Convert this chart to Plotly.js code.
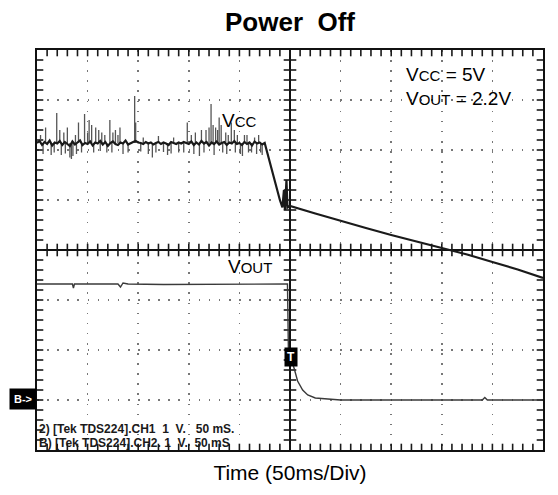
<!DOCTYPE html>
<html><head><meta charset="utf-8">
<script src="https://cdn.plot.ly/plotly-3.0.1.min.js"></script>
<style>html,body{margin:0;padding:0;background:#fff}</style>
</head><body><div id="chart" style="width:558px;height:495px"></div>
<script>
// Time in divisions (50 ms/div), voltage in divisions (1 V/div, screen offsets)
const vccTime = [-5.00,-4.95,-4.90,-4.85,-4.80,-4.75,-4.70,-4.65,-4.60,-4.55,-4.50,-4.45,-4.40,-4.35,-4.30,-4.25,-4.20,-4.15,-4.10,-4.05,
  -4.00,-3.95,-3.90,-3.85,-3.80,-3.75,-3.70,-3.65,-3.60,-3.55,-3.50,-3.45,-3.40,-3.35,-3.30,-3.25,-3.20,-3.15,-3.10,-3.05,
  -3.00,-2.95,-2.90,-2.85,-2.80,-2.75,-2.70,-2.65,-2.60,-2.55,-2.50,-2.45,-2.40,-2.35,-2.30,-2.25,-2.20,-2.15,-2.10,-2.05,
  -2.00,-1.95,-1.90,-1.85,-1.80,-1.75,-1.70,-1.65,-1.60,-1.55,-1.50,-1.45,-1.40,-1.35,-1.30,-1.25,-1.20,-1.15,-1.10,-1.05,
  -1.00,-0.95,-0.90,-0.85,-0.80,-0.75,-0.70,-0.65,-0.60,-0.55,-0.50,
  -0.45,-0.40,-0.35,-0.30,-0.25,-0.20,-0.15,-0.12,-0.10,-0.07,-0.05,0.00,
  0.50,1.00,1.50,2.00,2.50,3.00,3.50,4.00,4.50,5.00];
const vccLevel = [2.14,2.18,2.10,2.16,2.12,2.19,2.09,2.15,2.13,2.18,2.10,2.16,2.12,2.08,2.17,2.11,2.15,2.19,2.10,2.14,
  2.12,2.17,2.09,2.15,2.13,2.18,2.11,2.16,2.08,2.14,2.17,2.12,2.10,2.15,2.13,2.19,2.11,2.14,2.16,2.18,
  2.15,2.14,2.12,2.16,2.13,2.15,2.11,2.14,2.16,2.12,2.15,2.13,2.10,2.16,2.14,2.12,2.15,2.13,2.16,2.14,
  2.12,2.17,2.10,2.15,2.11,2.18,2.13,2.16,2.09,2.15,2.12,2.17,2.11,2.14,2.16,2.10,2.15,2.13,2.18,2.12,
  2.14,2.10,2.16,2.12,2.15,2.09,2.17,2.13,2.15,2.11,2.14,
  1.95,1.75,1.55,1.40,1.20,1.00,0.85,1.20,0.80,1.40,0.85,0.88,
  0.73,0.58,0.44,0.30,0.17,0.04,-0.09,-0.24,-0.39,-0.56];

// VCC noise spikes (time, peak level) around the baseline
const vccBaseline = 2.14;
const spikeTime  = [-4.83,-4.72,-4.61,-4.47,-4.35,-4.29,-4.18,-4.12,-4.06,-3.97,-3.92,-3.84,-3.72,-3.62,-3.56,-3.45,-3.36,-3.30,-3.07,-3.05,
  -2.72,-2.42,-2.20,-2.03,-1.87,-1.79,-1.66,-1.56,-1.47,-1.40,-1.33,-1.27,-1.16,-0.94,-0.90,-0.76,-0.55,
  -4.93,-4.55,-4.40,-4.24,-4.00,-3.78,-3.66,-3.50,-3.40,-2.90,-2.60,-2.30,-1.95,-1.75,-1.60,-1.52,-1.43,-1.36,-1.22,-1.10,-1.04,-0.85,-0.70,-0.62,
  -4.88,-4.66,-4.52,-4.44,-4.32,-4.22,-3.88,-3.75,-3.52,-3.20,-2.95,-2.80,-2.65,-2.50,-2.35,-2.10,-1.90,-1.70,-1.50,-1.25,-1.08,-0.98,-0.82,-0.66,-0.58];
const spikeLevel = [2.45,1.90,2.74,2.35,1.85,1.88,2.55,1.95,2.72,2.60,2.50,2.45,2.35,1.95,2.60,2.40,2.45,1.92,3.08,2.55,
  1.85,1.90,1.95,2.55,2.35,1.88,2.40,2.92,2.45,2.65,1.95,2.35,2.55,1.88,2.30,1.95,1.90,
  2.30,2.40,2.45,2.30,2.35,2.40,2.30,2.35,2.30,2.25,2.28,2.25,2.30,2.40,2.45,2.50,2.40,2.50,2.30,2.40,2.30,2.30,2.25,2.30,
  1.92,1.95,1.90,1.93,1.82,1.92,1.95,1.98,1.95,1.95,1.97,1.92,1.95,1.96,1.93,1.95,1.92,1.95,1.90,1.92,1.95,1.92,1.95,1.92,1.95];

const voutTime = [-5.00,-4.30,-4.28,-4.26,-3.40,-3.35,-3.30,-3.20,-2.50,-1.00,-0.50,-0.05,-0.03,0.03,0.08,0.15,0.25,0.35,0.50,0.70,1.00,1.50,2.50,3.80,3.85,3.90,5.00];
const voutLevel = [-0.68,-0.68,-0.76,-0.68,-0.68,-0.74,-0.66,-0.68,-0.69,-0.68,-0.68,-0.68,-2.10,-2.20,-2.36,-2.62,-2.80,-2.90,-2.96,-2.98,-3.00,-3.00,-3.00,-3.00,-2.95,-3.00,-3.00];

const xRange = [-5, 5];
const yRange = [-4, 4];
const subDiv = 0.2;      // graticule sub-division (div)
const titleText = 'Power&nbsp; Off';
const xTitle = 'Time (50ms/Div)';
const scopeLine1 = '2) [Tek TDS224].CH1  1  V.   50 mS.';
const scopeLine2 = 'B) [Tek TDS224].CH2. 1  V.  50 mS';

const FONT = 'Arial, "Liberation Sans", sans-serif';

// graticule sub-division marks: on centre lines and on the frame
const nX = Math.round((xRange[1] - xRange[0]) / subDiv), nY = Math.round((yRange[1] - yRange[0]) / subDiv);
const vMarkX = [], vMarkY = [];
for (let i = 1; i < nX; i++) { const t = xRange[0] + i * subDiv; vMarkX.push(t, t, t); vMarkY.push(0, yRange[0], yRange[1]); }
const hMarkX = [], hMarkY = [];
for (let j = 1; j < nY; j++) { const v = yRange[0] + j * subDiv; hMarkX.push(0, xRange[0], xRange[1]); hMarkY.push(v, v, v); }

const axisBase = (range) => ({
  range: range, dtick: 1, tick0: 0, showline: true, linecolor: '#111', linewidth: 1.8, mirror: true,
  ticks: '', showgrid: true, gridcolor: '#777', gridwidth: 1.6, griddash: '1.6px,8.5px',
  zeroline: true, zerolinecolor: '#111', zerolinewidth: 2,
  showticklabels: false, fixedrange: true
});

const spikeX = [], spikeY = [];
spikeTime.forEach((t, i) => { spikeX.push(t, t, null); spikeY.push(vccBaseline, spikeLevel[i], null); });

const data = [
  {x: vMarkX, y: vMarkY, type: 'scatter', mode: 'markers', name: 'graticule', showlegend: false, hoverinfo: 'skip',
   cliponaxis: true, marker: {symbol: 'line-ns-open', size: 9, color: '#1a1a1a', line: {color: '#1a1a1a', width: 1.6}}},
  {x: hMarkX, y: hMarkY, type: 'scatter', mode: 'markers', name: 'graticule', showlegend: false, hoverinfo: 'skip',
   cliponaxis: true, marker: {symbol: 'line-ew-open', size: 9, color: '#1a1a1a', line: {color: '#1a1a1a', width: 1.6}}},
  {x: spikeX, y: spikeY, type: 'scatter', mode: 'lines', name: 'VCC noise',
   line: {color: '#555', width: 1.3}, showlegend: false, connectgaps: false},
  {x: vccTime, y: vccLevel, type: 'scatter', mode: 'lines', name: 'VCC',
   line: {color: '#1a1a1a', width: 2.2}, showlegend: false},
  {x: voutTime, y: voutLevel, type: 'scatter', mode: 'lines', name: 'VOUT',
   line: {color: '#3a3a3a', width: 1.4}, showlegend: false}
];

const layout = {
  width: 558, height: 495,
  margin: {l: 37, r: 15, t: 50, b: 45},
  paper_bgcolor: '#fff', plot_bgcolor: '#fff',
  font: {family: FONT, color: '#000'},
  title: {text: '<b>' + titleText + '</b>', font: {family: FONT, size: 26, color: '#000'},
          x: 0.5, xref: 'paper', y: 0.955, yref: 'container', yanchor: 'middle'},
  xaxis: Object.assign(axisBase(xRange), {title: {text: xTitle, font: {family: FONT, size: 21, color: '#000'}, standoff: 14}}),
  yaxis: axisBase(yRange),
  annotations: [
    {x: -1.0, y: 2.6, xref: 'x', yref: 'y', showarrow: false,
     text: 'V<span style="font-size:15px">CC</span>', font: {family: FONT, size: 19, color: '#000'}},
    {x: -0.8, y: -0.32, xref: 'x', yref: 'y', showarrow: false,
     text: 'V<span style="font-size:15px">OUT</span>', font: {family: FONT, size: 19, color: '#000'}},
    {x: 2.25, y: 3.51, xref: 'x', yref: 'y', xanchor: 'left', showarrow: false,
     text: 'V<span style="font-size:15px">CC</span> = 5V', font: {family: FONT, size: 19, color: '#000'}},
    {x: 2.25, y: 3.03, xref: 'x', yref: 'y', xanchor: 'left', showarrow: false,
     text: 'V<span style="font-size:15px">OUT</span> = 2.2V', font: {family: FONT, size: 19, color: '#000'}},
    {x: -5.0, y: -3.58, xref: 'x', yref: 'y', xanchor: 'left', showarrow: false,
     text: '<b>' + scopeLine1 + '</b>', font: {family: FONT, size: 12, color: '#1a1a1a'}},
    {x: -5.0, y: -3.86, xref: 'x', yref: 'y', xanchor: 'left', showarrow: false,
     text: '<b>' + scopeLine2 + '</b>', font: {family: FONT, size: 12, color: '#1a1a1a'}},
    {x: 0, y: -2.97, xref: 'paper', yref: 'y', xanchor: 'right', showarrow: false, bgcolor: '#000', borderpad: 4,
     text: '<b>B-&gt;</b>', font: {family: FONT, size: 11, color: '#fff'}},
    {x: 0.02, y: -2.14, xref: 'x', yref: 'y', showarrow: false, bgcolor: '#000', borderpad: 2,
     text: '<b>T</b>', font: {family: FONT, size: 12, color: '#fff'}}
  ]
};

Plotly.newPlot('chart', data, layout, {displayModeBar: false, staticPlot: true});
</script>
</body></html>
